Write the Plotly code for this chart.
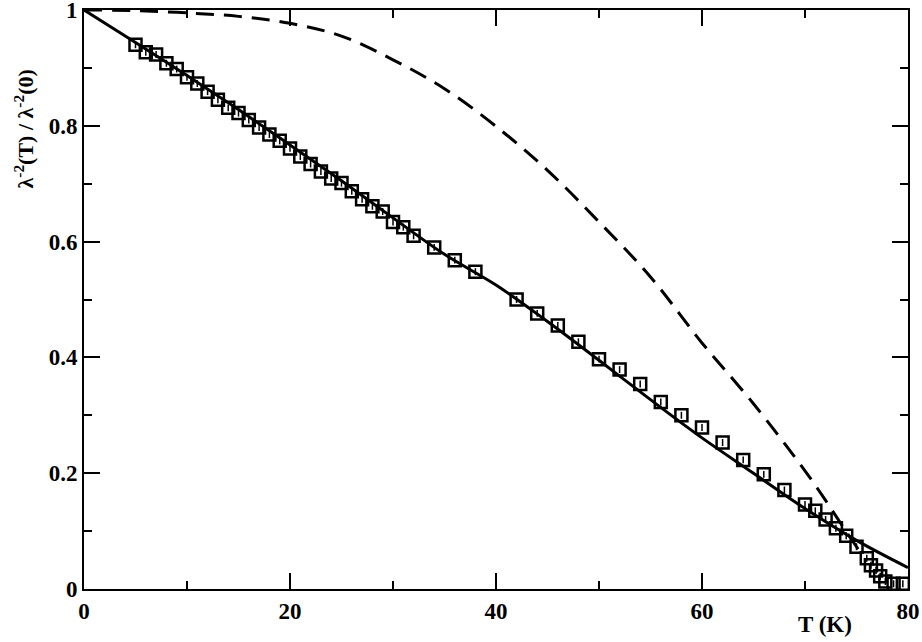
import plotly.graph_objects as go

# Data squares (T in K, normalized superfluid density)
T_data = [5, 6, 7, 8, 9, 10, 11, 12, 13, 14, 15, 16, 17, 18, 19, 20, 21, 22, 23, 24,
          25, 26, 27, 28, 29, 30, 31, 32, 34, 36, 38,
          42, 44, 46, 48, 50, 52, 54, 56, 58, 60, 62, 64, 66, 68, 70, 71, 72, 73, 74,
          75, 76, 76.4, 76.9, 77.3, 77.8, 78.6, 79.5]
y_data = [0.940, 0.927, 0.923, 0.908, 0.898, 0.884, 0.873, 0.859, 0.845, 0.831,
          0.822, 0.810, 0.797, 0.785, 0.774, 0.761, 0.747, 0.734, 0.721, 0.709,
          0.701, 0.687, 0.673, 0.661, 0.652, 0.634, 0.625, 0.610, 0.590, 0.568, 0.548,
          0.500, 0.476, 0.455, 0.427, 0.397, 0.379, 0.354, 0.323, 0.300, 0.279,
          0.253, 0.223, 0.198, 0.171, 0.146, 0.135, 0.120, 0.105, 0.092,
          0.073, 0.053, 0.041, 0.032, 0.022, 0.013, 0.009, 0.009]
err_data = [0.006] * len(T_data)

# Solid fit curve
T_solid = [0, 5, 10, 15, 20, 25, 30, 35, 40, 45, 50, 55, 60, 65, 70, 75, 80]
y_solid = [1.000, 0.944, 0.887, 0.828, 0.767, 0.705, 0.641, 0.578, 0.525, 0.462,
           0.395, 0.327, 0.261, 0.200, 0.139, 0.084, 0.037]

# Dashed curve
T_dash = [0, 5, 10, 15, 20, 25, 30, 35, 40, 45, 50, 55, 60, 65, 70, 72, 74, 75.2]
y_dash = [1.000, 0.999, 0.995, 0.989, 0.977, 0.955, 0.914, 0.864, 0.799, 0.723,
          0.634, 0.539, 0.425, 0.320, 0.204, 0.153, 0.099, 0.068]

x_ticks = [0, 20, 40, 60, 80]
y_ticks = [0, 0.2, 0.4, 0.6, 0.8, 1]

FONT = "Liberation Serif"

fig = go.Figure()
fig.add_trace(go.Scatter(x=T_dash, y=y_dash, mode="lines", line_shape="spline",
                         line=dict(color="black", width=3, dash="18px,10px"),
                         showlegend=False, hoverinfo="skip"))
fig.add_trace(go.Scatter(x=T_solid, y=y_solid, mode="lines", line_shape="spline",
                         line=dict(color="black", width=3),
                         showlegend=False, hoverinfo="skip"))
fig.add_trace(go.Scatter(x=T_data, y=y_data, mode="markers",
                         marker=dict(symbol="square", size=12, color="rgba(0,0,0,0)",
                                     line=dict(color="black", width=2.5)),
                         error_y=dict(type="data", array=err_data, visible=True,
                                      color="black", thickness=1.5, width=0),
                         showlegend=False))

axis_common = dict(showline=True, linecolor="black", linewidth=2, mirror="ticks",
                   ticks="inside", ticklen=16, tickwidth=2, tickcolor="black",
                   showgrid=False, zeroline=False, automargin=False,
                   ticklabeloverflow="allow",
                   tickfont=dict(family=FONT, size=23, color="black", weight="bold"))

fig.update_xaxes(range=[0, 80], tickvals=x_ticks,
                 minor=dict(ticks="inside", ticklen=8, tickwidth=2, dtick=10,
                            tick0=0, tickcolor="black", showgrid=False),
                 **axis_common)
fig.update_yaxes(range=[0, 1], tickvals=y_ticks,
                 minor=dict(ticks="inside", ticklen=8, tickwidth=2, dtick=0.1,
                            tick0=0, tickcolor="black", showgrid=False),
                 **axis_common)

fig.add_annotation(text="T (K)", xref="paper", yref="paper", x=0.899, y=-0.062,
                   showarrow=False, xanchor="center", yanchor="middle",
                   font=dict(family=FONT, size=23, color="black", weight="bold"))
fig.add_annotation(text="λ<sup>-2</sup>(T) / λ<sup>-2</sup>(0)", xref="paper", yref="paper",
                   x=-0.073, y=0.795, showarrow=False, textangle=-90,
                   xanchor="center", yanchor="middle",
                   font=dict(family=FONT, size=22, color="black", weight="bold"))

fig.update_layout(width=922, height=642,
                  margin=dict(l=84, r=14, t=10, b=53),
                  plot_bgcolor="white", paper_bgcolor="white")

fig.write_html("out.html", config={"displayModeBar": False},
               post_script="document.body.style.margin='0';document.body.style.padding='0';")
